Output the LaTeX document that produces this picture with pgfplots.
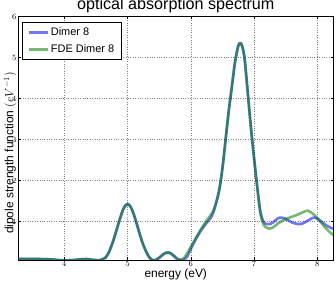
\documentclass[border=0pt]{standalone}
\usepackage{fontspec}
\setmainfont{Liberation Sans}
\usepackage{pgfplots}
\pgfplotsset{compat=1.18}
\definecolor{mblue}{rgb}{0,0,1}
\definecolor{mgreen}{rgb}{0,0.5,0}
\begin{document}
\begin{tikzpicture}
\begin{axis}[name=ax, scale only axis, width=315.5bp, height=243.5bp,
 xmin=3.268, xmax=8.256, ymin=0.066, ymax=6,
 xtick={4,5,6,7,8}, ytick={1,2,3,4,5,6},
 grid=major, major grid style={dotted, black!50, line width=0.6bp},
 axis line style={line width=0.8bp},
 tick align=inside, major tick length=3bp, tick style={black, line width=0.5bp},
 title={optical absorption spectrum},
 title style={font=\fontsize{16.2}{18}\selectfont, inner sep=0pt, at={(axis description cs:0.5,1)}, anchor=base, yshift=1.5bp},
 xlabel={energy (eV)}, ylabel={dipole strength function $(eV^{-1})$},
 label style={font=\fontsize{12}{13}\selectfont},
 xlabel style={inner sep=0pt, at={(axis description cs:0.5,0)}, anchor=base, yshift=-17.5bp},
 ylabel style={inner sep=0pt, at={(axis description cs:-0.025,0.44)}, anchor=center},
 tick label style={font=\fontsize{8.5}{9}\selectfont},
 xticklabel style={inner sep=1.5bp},
 yticklabel style={inner sep=1.5bp},
 legend style={at={(0.0127,0.976)}, anchor=north west, font=\fontsize{11}{12}\selectfont, draw=black, line width=0.6bp, row sep=3.5bp, inner xsep=5bp, inner ysep=3bp},
 legend cell align=left,
 legend image code/.code={\draw[#1] (0bp,0bp) -- (19bp,0bp);},
 every axis plot/.append style={line width=2.6bp, opacity=0.55},
]
\addplot[mblue, smooth] coordinates {
(3.27,0.09)(3.4,0.09)(3.6,0.09)(3.8,0.08)(3.95,0.06)(4.1,0.06)(4.25,0.08)(4.35,0.09)(4.45,0.07)(4.55,0.06)
(4.60,0.08)(4.65,0.12)(4.70,0.24)(4.75,0.43)(4.80,0.66)(4.85,0.92)(4.90,1.17)(4.95,1.36)(5.00,1.43)
(5.05,1.36)(5.10,1.17)(5.15,0.92)(5.20,0.66)(5.25,0.43)(5.30,0.25)(5.35,0.12)(5.40,0.06)(5.45,0.07)
(5.50,0.12)(5.55,0.19)(5.60,0.24)(5.65,0.25)(5.70,0.21)(5.75,0.14)(5.80,0.08)
(5.85,0.06)(5.90,0.08)(5.95,0.17)(6.00,0.33)(6.05,0.49)(6.10,0.63)(6.15,0.76)(6.20,0.87)(6.25,0.97)
(6.30,1.06)(6.35,1.20)(6.40,1.45)(6.45,1.78)(6.50,2.30)(6.55,3.00)(6.60,3.70)(6.65,4.30)(6.70,4.90)
(6.75,5.28)(6.78,5.35)(6.81,5.29)(6.85,4.98)(6.90,4.15)(6.95,3.30)(7.00,2.55)(7.05,1.85)(7.10,1.25)
(7.15,1.00)(7.20,0.94)(7.25,0.94)(7.30,0.98)(7.35,1.05)(7.41,1.10)(7.50,1.07)(7.60,0.98)(7.72,0.94)
(7.80,0.98)(7.90,1.07)(7.96,1.10)(8.05,1.02)(8.15,0.90)(8.26,0.82)
};
\addlegendentry{Dimer 8}
\addplot[mgreen, smooth] coordinates {
(3.27,0.09)(3.4,0.09)(3.6,0.09)(3.8,0.08)(3.95,0.06)(4.1,0.06)(4.25,0.08)(4.35,0.09)(4.45,0.07)(4.55,0.06)
(4.60,0.08)(4.65,0.12)(4.70,0.24)(4.75,0.43)(4.80,0.66)(4.85,0.92)(4.90,1.17)(4.95,1.36)(5.00,1.43)
(5.05,1.36)(5.10,1.17)(5.15,0.92)(5.20,0.66)(5.25,0.43)(5.30,0.25)(5.35,0.12)(5.40,0.06)(5.45,0.07)
(5.50,0.12)(5.55,0.19)(5.60,0.24)(5.65,0.25)(5.70,0.21)(5.75,0.14)(5.80,0.08)
(5.85,0.07)(5.90,0.13)(5.95,0.25)(6.00,0.39)(6.05,0.52)(6.10,0.65)(6.15,0.79)(6.20,0.91)(6.25,1.03)
(6.30,1.13)(6.35,1.25)(6.40,1.47)(6.45,1.78)(6.50,2.30)(6.55,3.00)(6.60,3.70)(6.65,4.30)(6.70,4.90)
(6.75,5.28)(6.78,5.35)(6.81,5.29)(6.85,4.98)(6.90,4.15)(6.95,3.30)(7.00,2.55)(7.05,1.85)(7.10,1.20)
(7.15,0.93)(7.20,0.85)(7.25,0.83)(7.30,0.86)(7.40,0.98)(7.50,1.06)(7.60,1.12)(7.70,1.18)(7.80,1.25)
(7.85,1.27)(7.90,1.23)(8.00,1.09)(8.10,0.90)(8.20,0.74)(8.26,0.67)
};
\addlegendentry{FDE Dimer 8}
\end{axis}
\pgfresetboundingbox
\path[use as bounding box] ([shift={(-18bp,-21bp)}]ax.south west) rectangle ([shift={(2.5bp,16.5bp)}]ax.north east);
\end{tikzpicture}
\end{document}
